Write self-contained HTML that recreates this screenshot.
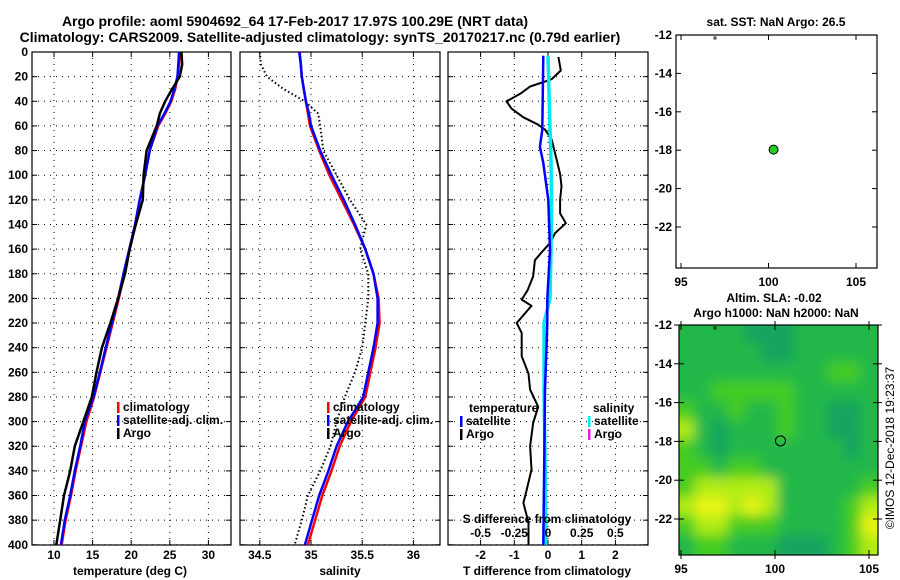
<!DOCTYPE html>
<html><head><meta charset="utf-8"><style>
html,body{margin:0;padding:0;background:#fff;}
svg{display:block;font-family:"Liberation Sans",sans-serif;font-weight:bold;}
</style></head><body>
<svg id="c" width="900" height="580" viewBox="0 0 900 580">
<defs><filter id="bl" x="-10%" y="-10%" width="120%" height="120%"><feGaussianBlur stdDeviation="6"/></filter><clipPath id="mclip"><rect x="679" y="325" width="199" height="230"/></clipPath></defs>
<text x="295" y="26" font-size="14" text-anchor="middle">Argo profile: aoml 5904692_64 17-Feb-2017 17.97S 100.29E (NRT data)</text>
<text x="320" y="42" font-size="14" text-anchor="middle">Climatology: CARS2009. Satellite-adjusted climatology: synTS_20170217.nc (0.79d earlier)</text>
<g id="g"></g>
</svg>
<script>
const depths=[0,10,20,30,40,50,60,80,100,120,140,160,180,200,220,240,260,280,300,320,340,360,380,400];
const tClim=[26.3,26.2,26.0,25.7,25.2,24.4,23.5,22.4,21.8,21.1,20.5,19.8,19.1,18.4,17.6,16.8,16.0,15.2,14.2,13.5,12.8,12.2,11.5,11.0];
const tSat=[26.2,26.1,26.0,25.6,25.1,24.3,23.4,22.4,21.8,21.1,20.5,19.75,19.0,18.3,17.5,16.7,15.95,15.1,14.0,13.4,12.7,12.1,11.4,10.9];
const tArgo=[26.5,26.6,26.3,25.3,24.4,23.7,23.3,22.0,21.6,21.5,20.6,19.8,19.2,18.3,17.3,16.2,15.5,14.9,13.8,12.7,12.1,11.3,10.8,10.3];
const sClim=[34.89,34.9,34.91,34.93,34.95,34.97,34.99,35.08,35.18,35.3,35.42,35.53,35.61,35.66,35.67,35.63,35.58,35.53,35.39,35.28,35.2,35.11,35.04,34.97];
const sSat=[34.886,34.9,34.91,34.93,34.95,34.98,35.0,35.09,35.2,35.32,35.43,35.53,35.61,35.65,35.65,35.61,35.56,35.51,35.36,35.25,35.17,35.08,35.01,34.94];
const sArgo=[34.5,34.51,34.57,34.73,34.94,35.07,35.09,35.12,35.25,35.38,35.54,35.48,35.56,35.56,35.53,35.5,35.43,35.33,35.25,35.19,35.09,34.97,34.91,34.84];
const diffDepths=[4,15,22,24,28,34,40,46,53,59,63,71,88,99,109,120,131,139,147,155,161,169,182,193,201,206,220,228,247,261,274,288,301,320,339,355,366,382,393,400];
const dtArgo=[0.31,0.38,0.11,-0.09,-0.53,-0.83,-1.23,-1.08,-0.73,-0.29,-0.09,0.11,0.26,0.36,0.4,0.36,0.36,0.53,0.21,0.06,-0.14,-0.39,-0.44,-0.6,-0.78,-0.49,-0.93,-0.78,-0.78,-0.58,-0.53,-0.29,-0.44,-0.53,-0.49,-0.63,-0.73,-0.58,-0.58,-0.58];
const satDepths=[3,63,77,90,120,161,200,220,274,328,400];
const dtSat=[-0.14,-0.17,-0.24,-0.14,0.01,0.06,-0.02,-0.02,-0.09,-0.11,-0.14];
const dsSat=[0,0.015,0.02,0.022,0.027,0.022,0.015,-0.03,-0.03,-0.022,-0.015];
const depthTicks=[0,20,40,60,80,100,120,140,160,180,200,220,240,260,280,300,320,340,360,380,400];
const tTicks=[10,15,20,25,30];
const sTicks=[34.5,35,35.5,36];
const dTicks=[-2,-1,0,1,2];
const dsTicks=[-0.5,-0.25,0,0.25,0.5];
const dsLabels=["-0.5","-0.25","0","0.25","0.5"];
const latTicks=[-12,-14,-16,-18,-20,-22];
const lonTicks=[95,100,105];
const argoLon=100.29, argoLat=-17.97;
const sla=[
[1,1,1,1,0,0,0,1,1,1,1,1],
[1,1,1,1,1,0,0,1,1,1,1,1],
[1,1,1,1,1,1,1,1,1,2,2,1],
[1,1,2,2,2,2,2,1,1,1,1,1],
[2,1,1,2,1,1,2,1,1,0,0,1],
[3,1,0,1,1,1,2,1,1,0,0,1],
[2,1,0,1,1,1,1,1,1,1,0,1],
[2,2,1,2,2,1,1,1,1,1,1,1],
[2,3,3,3,3,3,1,1,1,1,1,2],
[3,4,4,3,4,3,1,1,1,1,2,3],
[2,3,3,2,2,2,1,1,1,1,2,4],
[1,2,2,1,1,1,0,0,0,1,2,3]];
const slaColors=["#12a45e","#22b848","#44cc22","#b0ec18","#e8f418"];

const NS="http://www.w3.org/2000/svg";
const G=document.getElementById('g');
function el(t,a,p){const e=document.createElementNS(NS,t);for(const k in a)e.setAttribute(k,a[k]);(p||G).appendChild(e);return e;}
function txt(x,y,s,size,anchor,extra){const e=el('text',Object.assign({x:x,y:y,'font-size':size||12,'text-anchor':anchor||'middle'},extra||{}));e.textContent=s;return e;}
const Y=d=>52+d*1.232;
const TOP=52,BOT=545;
function panel(x0,x1,xf,ticks,labels,name){
  const fr=el('rect',{x:x0,y:TOP,width:x1-x0,height:BOT-TOP,fill:'none',stroke:'#000','stroke-width':1.2});
  
  
  ticks.forEach((t,i)=>{const x=xf(t);
    el('line',{x1:x,x2:x,y1:TOP,y2:BOT,stroke:'#000','stroke-width':1,'stroke-dasharray':'1 5'});
    el('line',{x1:x,x2:x,y1:BOT,y2:BOT-5,stroke:'#000'});el('line',{x1:x,x2:x,y1:TOP,y2:TOP+5,stroke:'#000'});
    if(labels){const l=txt(x,559,labels[i],12);
    
    }
  });
  depthTicks.forEach(d=>{const y=Y(d);
    el('line',{x1:x0,x2:x1,y1:y,y2:y,stroke:'#000','stroke-width':1,'stroke-dasharray':'1 5'});
    el('line',{x1:x0,x2:x0+5,y1:y,y2:y,stroke:'#000'});el('line',{x1:x1-5,x2:x1,y1:y,y2:y,stroke:'#000'});
  });
}
function line(xs,xf,color,name,dash,w,ds){
  ds=ds||depths;
  let d='';xs.forEach((v,i)=>{d+=(i?'L':'M')+xf(v).toFixed(1)+','+Y(ds[i]).toFixed(1);});
  const p=el('path',{d:d,fill:'none',stroke:color,'stroke-width':w||2.5,'stroke-dasharray':dash||'none','stroke-linejoin':'round'});
  
  
}
function legend(x,y,items){
  items.forEach((it,i)=>{const yy=y+i*13;
    el('rect',{x:x,y:yy-9,width:2.5,height:11,fill:it[1]});
    const t=txt(x+6,yy,it[0],12,'start');
    
    
  });
}
// Panel 1 temperature
const xT=v=>54+(v-10)*7.72;
panel(32,231,xT,tTicks,tTicks.map(String),'temperature-panel');
depthTicks.forEach(d=>{const t=txt(28,Y(d)+4,String(d),12,'end');
  
  });
line(tClim,xT,'#f00','temperature-climatology-line');
line(tSat,xT,'#00f','temperature-satellite-line');
line(tArgo,xT,'#000','temperature-argo-line');
legend(117,411,[['climatology','#f00'],['satellite-adj. clim.','#00f'],['Argo','#000']]);
let t=txt(130,575,'temperature (deg C)',12);
// Panel 2 salinity
const xS=v=>311+(v-35)*102.4;
panel(240,440,xS,sTicks,sTicks.map(String),'salinity-panel');
line(sArgo,xS,'#000','salinity-argo-line','1.5 2.5',2);
line(sClim,xS,'#f00','salinity-climatology-line');
line(sSat,xS,'#00f','salinity-satellite-line');
legend(327,411,[['climatology','#f00'],['satellite-adj. clim.','#00f'],['Argo','#000']]);
t=txt(340,575,'salinity',12);
// Panel 3 differences
const xD=v=>548+v*33.7;
const xDS=v=>548+v*4*33.7;
panel(448,648,xD,dTicks,dTicks.map(String),'difference-panel');
line(dtArgo,xD,'#000','temperature-diff-argo-line',null,2,diffDepths);
line(dsSat,xDS,'#00e8f0','salinity-diff-satellite-line',null,3.5,satDepths);
line(dtSat,xD,'#00f','temperature-diff-satellite-line',null,2.5,satDepths);
t=txt(469,412,'temperature',12,'start');
t=txt(593,412,'salinity',12,'start');
legend(460,425,[['satellite','#00f'],['Argo','#000']]);
legend(588,425,[['satellite','#00f0f0'],['Argo','#e020e0']]);
t=txt(547,523,'S difference from climatology',12);
dsTicks.forEach((v,i)=>{const l=txt(xDS(v),537,dsLabels[i],12);
  
  });
t=txt(547,575,'T difference from climatology',12);
// Top map
const mx1=v=>681+(v-95)*17.5, my1=v=>35+(-12-v)*19.2;
let fr=el('rect',{x:676,y:35,width:201,height:233,fill:'#fff',stroke:'#000','stroke-width':1.2});

t=txt(776,26,'sat. SST: NaN Argo: 26.5',12);
latTicks.forEach(v=>{const y=my1(v);el('line',{x1:676,x2:681,y1:y,y2:y,stroke:'#000'});el('line',{x1:872,x2:877,y1:y,y2:y,stroke:'#000'});
  const l=txt(672,y+4,String(v),12,'end');});
lonTicks.forEach(v=>{const x=mx1(v);el('line',{x1:x,x2:x,y1:263,y2:268,stroke:'#000'});el('line',{x1:x,x2:x,y1:35,y2:40,stroke:'#000'});
  const l=txt(x,286,String(v),12);});
el('rect',{x:714,y:37,width:2,height:2,fill:'none',stroke:'#000','stroke-width':0.8});
let c=el('circle',{cx:mx1(argoLon),cy:my1(argoLat),r:4.5,fill:'#2c2',stroke:'#000','stroke-width':1});

// Bottom map
const mx2=v=>681+(v-95)*18.8, my2=v=>325+(-12-v)*19.4;
t=txt(774,302,'Altim. SLA: -0.02',12);
t=txt(776,317,'Argo h1000: NaN h2000: NaN',12);
const hm=el('g',{'clip-path':'url(#mclip)'});
el('rect',{x:679,y:325,width:199,height:230,fill:slaColors[1]},hm);
const hb=el('g',{filter:'url(#bl)'},hm);
const cw=199/12, ch=230/12;
sla.forEach((row,r)=>row.forEach((v,k)=>{
  const x=679+k*cw-1-(k===0?15:0), y=325+r*ch-1-(r===0?15:0);
  const w=cw+2+(k===0||k===11?15:0), h=ch+2+(r===0||r===11?15:0);
  const cell=el('rect',{x:x.toFixed(1),y:y.toFixed(1),width:w.toFixed(1),height:h.toFixed(1),fill:slaColors[v]},hb);
  
  
}));
fr=el('rect',{x:679,y:325,width:199,height:230,fill:'none',stroke:'#000','stroke-width':1.2});

latTicks.forEach(v=>{const y=my2(v);el('line',{x1:674,x2:684,y1:y,y2:y,stroke:'#000'});el('line',{x1:873,x2:882,y1:y,y2:y,stroke:'#000'});
  const l=txt(672,y+4,String(v),12,'end');});
lonTicks.forEach(v=>{const x=mx2(v);el('line',{x1:x,x2:x,y1:550,y2:559,stroke:'#000'});el('line',{x1:x,x2:x,y1:321,y2:330,stroke:'#000'});
  const l=txt(x,573,String(v),12);});
el('rect',{x:714,y:327,width:2,height:2,fill:'none',stroke:'#000','stroke-width':0.8});
c=el('circle',{cx:mx2(argoLon),cy:my2(argoLat),r:5,fill:'none',stroke:'#000','stroke-width':1});

t=txt(0,0,'©IMOS 12-Dec-2018 19:23:37',12,'middle',{transform:'translate(894,448) rotate(-90)','font-weight':'normal'});

</script>
</body></html>
